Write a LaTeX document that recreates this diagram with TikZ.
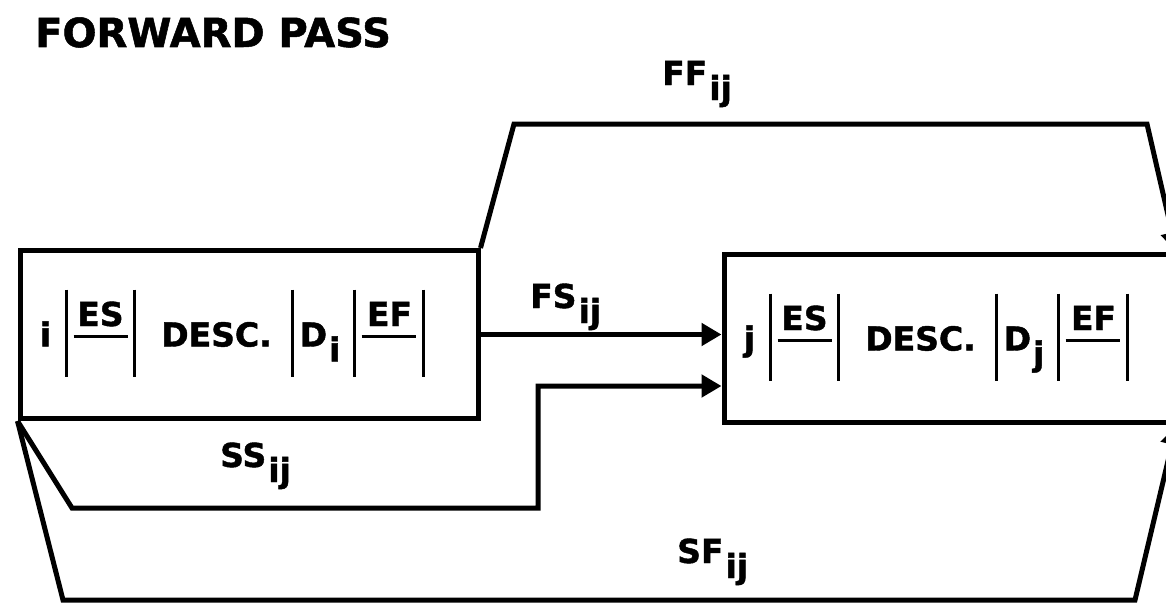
\documentclass[tikz,border=0pt]{standalone}
\usepackage{fontspec}
\setmainfont{DejaVu Sans}[BoldFeatures={FakeBold=1.3}]
\usetikzlibrary{arrows.meta}
\newcommand{\lowsub}[1]{\kern2pt\raisebox{-15pt}{#1}}

\begin{document}
\begin{tikzpicture}[x=1pt,y=-1pt,
  actbox/.style={draw,line width=5pt,minimum height=168pt,inner sep=0pt},
  lbl/.style={inner sep=0pt,font=\fontsize{33}{36}\selectfont\bfseries},
  ttl/.style={inner sep=0pt,anchor=base west,font=\fontsize{40}{44}\selectfont\bfseries},
  bar/.style={line width=3pt},
  link/.style={line width=5pt,-{Triangle[length=20pt,width=22pt]}}]
\useasboundingbox (0,0) rectangle (1166,602);
\node[ttl] (title) at (35,47) {FORWARD PASS};
\node[actbox,minimum width=458pt] (bi) at (249,334.5) {};
\node[actbox,minimum width=450pt] (bj) at (949,338.5) {};
\foreach \n/\l in {bi/i,bj/j}{
  \begin{scope}[shift={(\n.west)}]
  \node[lbl,anchor=base] (\n-id) at (28,12) {\l};
  \node[lbl,anchor=base] (\n-es) at (83,-8.5) {ES};
  \node[lbl,anchor=base] (\n-desc) at (199,12) {DESC.};
  \node[lbl,anchor=base west] (\n-d) at (282,12) {D\lowsub{\l}};
  \node[lbl,anchor=base] (\n-ef) at (372,-8.5) {EF};
  \foreach \x in {49,117,275,337,406}
    \draw[bar] (\x,-45) -- (\x,42);
  \draw[bar] (56,1.5) -- (110,1.5) (344,1.5) -- (398,1.5);
  \end{scope}
}
% links between the two activities
\coordinate (ffa) at (514,124);
\coordinate (ffb) at (1147,124);
\coordinate (ssa) at (72,508);
\coordinate (ssb) at (538,508);
\coordinate (ssc) at (538,386);
\coordinate (sfa) at (63,600);
\coordinate (sfb) at (1135,600);
\draw[link] (bi.north east) -- (ffa) -- (ffb) -- (bj.north east);
\draw[link] (bi.east) -- (bi.east -| bj.west);
\draw[link] (bi.south west) -- (ssa) -- (ssb) -- (ssc) -- (ssc -| bj.west);
\draw[link] (bi.south west) -- (sfa) -- (sfb) -- (bj.south east);
\node[lbl,anchor=base west] (ff) at (662,85) {FF\lowsub{ij}};
\node[lbl,anchor=base west] (fs) at (530,308) {FS\lowsub{ij}};
\node[lbl,anchor=base west] (ss) at (220,467) {SS\lowsub{ij}};
\node[lbl,anchor=base west] (sf) at (677,563) {SF\lowsub{ij}};
\end{tikzpicture}
\end{document}
